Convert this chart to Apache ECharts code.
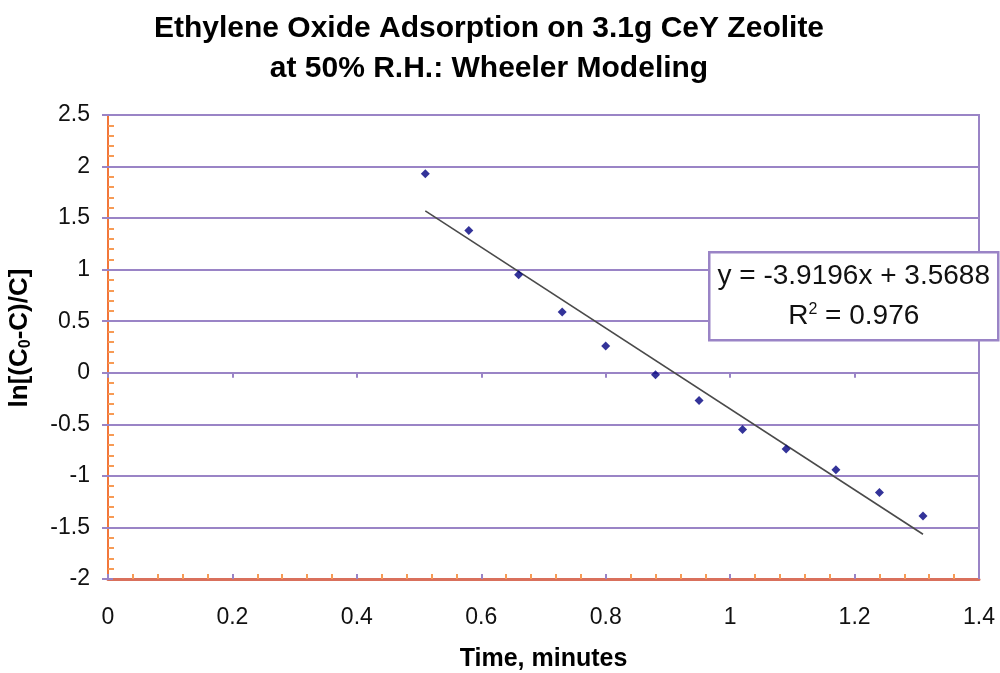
<!DOCTYPE html>
<html>
<head>
<meta charset="utf-8">
<script src="https://cdn.jsdelivr.net/npm/echarts@6/dist/echarts.min.js"></script>
<style>
html,body{margin:0;padding:0;background:#fff;}
#chart{width:1000px;height:673px;}
</style>
</head>
<body>
<div id="chart"></div>
<script>
// ---- data ----
const timeMin = [0.51, 0.58, 0.66, 0.73, 0.80, 0.88, 0.95, 1.02, 1.09, 1.17, 1.24, 1.31];
const lnRatio = [1.93, 1.38, 0.95, 0.59, 0.26, -0.02, -0.27, -0.55, -0.74, -0.94, -1.16, -1.39];
const trendSlope = -3.9196;
const trendIntercept = 3.5688;
const trendR2 = 0.976;
const trendRange = [0.51, 1.31];
const xTicks = [0, 0.2, 0.4, 0.6, 0.8, 1, 1.2, 1.4];
const yTicks = [-2, -1.5, -1, -0.5, 0, 0.5, 1, 1.5, 2, 2.5];

const titleLines = ['Ethylene Oxide Adsorption on 3.1g CeY Zeolite', 'at 50% R.H.: Wheeler Modeling'];

const PURPLE = '#9a84c6';
const ORANGE = '#f2763a';
const XAXIS_RED = '#d9705c';
const MINOR = '#f79a55';
const FONT = '"Liberation Sans", Arial, sans-serif';

const scatterData = timeMin.map((t, i) => [t, lnRatio[i]]);
const trendData = trendRange.map(x => [x, trendSlope * x + trendIntercept]);

const chart = echarts.init(document.getElementById('chart'), null, {renderer: 'canvas'});

const grid = {left: 108, right: 21, top: 115, bottom: 94, outerBoundsMode: 'none', containLabel: false,
  show: true, borderColor: PURPLE, borderWidth: 2, backgroundColor: '#fff'};

chart.setOption({
  backgroundColor: '#ffffff',
  animation: false,
  title: {
    text: titleLines.join('\n'),
    left: 484, top: 4, textAlign: 'center',
    textStyle: {fontFamily: FONT, fontWeight: 'bold', fontSize: 30, lineHeight: 40, color: '#000'}
  },
  grid: grid,
  xAxis: [{
    type: 'value', min: xTicks[0], max: xTicks[xTicks.length - 1], interval: 0.2,
    name: 'Time, minutes', nameLocation: 'middle', nameGap: 68,
    nameTextStyle: {fontFamily: FONT, fontWeight: 'bold', fontSize: 25, color: '#000'},
    axisLine: {show: true, onZero: false, lineStyle: {color: XAXIS_RED, width: 3}},
    axisTick: {show: true, inside: true, length: 5, lineStyle: {color: PURPLE, width: 2}},
    minorTick: {show: true, splitNumber: 5, length: 5, lineStyle: {color: MINOR, width: 2}},
    axisLabel: {fontFamily: FONT, fontSize: 23, color: '#111', margin: 27,
      formatter: v => String(Math.round(v * 10) / 10)},
    splitLine: {show: false}
  }, {
    type: 'value', min: xTicks[0], max: xTicks[xTicks.length - 1], interval: 0.2, position: 'bottom',
    axisLine: {show: false}, axisLabel: {show: false}, splitLine: {show: false},
    axisTick: {show: true, inside: false, length: 5, lineStyle: {color: PURPLE, width: 2}}
  }],
  yAxis: [{
    type: 'value', min: yTicks[0], max: yTicks[yTicks.length - 1], interval: 0.5,
    name: '{n|ln[(C}{s|0}{n|-C)/C]}', nameLocation: 'middle', nameGap: 74, nameRotate: 90,
    nameTextStyle: {
      padding: [0, 0, 0, 18],
      rich: {
        n: {fontFamily: FONT, fontWeight: 'bold', fontSize: 26, color: '#000'},
        s: {fontFamily: FONT, fontWeight: 'bold', fontSize: 16, color: '#000', verticalAlign: 'bottom', padding: [12, 0, 0, 0]}
      }
    },
    axisLine: {show: true, onZero: false, lineStyle: {color: ORANGE, width: 2}},
    axisTick: {show: true, inside: true, length: 5, lineStyle: {color: PURPLE, width: 2}},
    minorTick: {show: true, splitNumber: 5, length: 6, lineStyle: {color: MINOR, width: 2}},
    axisLabel: {fontFamily: FONT, fontSize: 23, color: '#111', margin: 18},
    splitLine: {show: true, lineStyle: {color: PURPLE, width: 2}}
  }, {
    type: 'value', min: yTicks[0], max: yTicks[yTicks.length - 1], interval: 0.5, position: 'left',
    axisLine: {show: false}, axisLabel: {show: false}, splitLine: {show: false},
    axisTick: {show: true, inside: false, length: 6, lineStyle: {color: PURPLE, width: 2}}
  }],
  series: [{
    type: 'line', name: 'trend', data: trendData, xAxisIndex: 0, yAxisIndex: 0,
    symbol: 'none', lineStyle: {color: '#4a4a4a', width: 1.6}, z: 3, silent: true
  }, {
    type: 'scatter', name: 'data', data: scatterData, xAxisIndex: 0, yAxisIndex: 0,
    symbol: 'diamond', symbolSize: 9, itemStyle: {color: '#000080'}, z: 4
  }],
  graphic: [{
    type: 'group', left: 708, top: 251, zlevel: 1,
    children: [{
      type: 'rect', z: 100, shape: {x: 0, y: 0, width: 289, height: 88},
      style: {fill: '#fff', stroke: PURPLE, lineWidth: 2.5}
    }, {
      type: 'text', z: 101, x: 144.5, y: 24,
      style: {text: 'y = ' + trendSlope + 'x + ' + trendIntercept, font: '28px ' + FONT,
        fill: '#111', textAlign: 'center', textVerticalAlign: 'middle'}
    }, {
      type: 'text', z: 101, x: 144.5, y: 64,
      style: {
        text: '{a|R}{s|2}{a| = ' + trendR2 + '}',
        textAlign: 'center', textVerticalAlign: 'middle',
        rich: {
          a: {fontFamily: FONT, fontSize: 28, fill: '#111', color: '#111'},
          s: {fontFamily: FONT, fontSize: 16, fill: '#111', color: '#111', padding: [0, 0, 14, 0]}
        }
      }
    }]
  }]
});
</script>
</body>
</html>
